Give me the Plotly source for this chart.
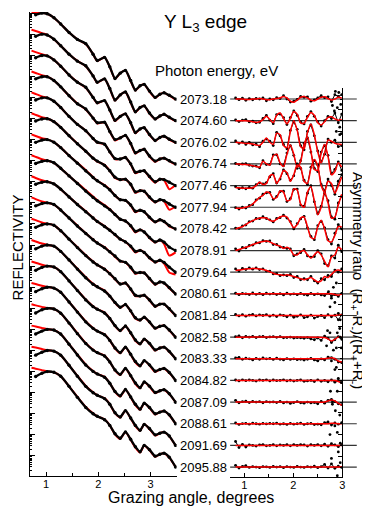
import plotly.graph_objects as go

# ---------------- data ----------------
ENERGIES = ["2073.18", "2074.60", "2076.02", "2076.74", "2077.46", "2077.94", "2078.42",
            "2078.91", "2079.64", "2080.61", "2081.84", "2082.58", "2083.33", "2084.82",
            "2087.09", "2088.61", "2091.69", "2095.88"]

# Left panel: grazing angle (deg) and reflectivity drop below each curve's peak (decades)
LX = [0.80, 0.92, 1.02, 1.15, 1.28, 1.44, 1.60, 1.76, 1.90, 1.98, 2.12, 2.22, 2.32, 2.42,
      2.52, 2.62, 2.71, 2.80, 2.88, 2.98, 3.09, 3.18, 3.26, 3.36, 3.48]
LXF = [0.72] + LX

REFL_DATA = [
    [0.08,0.00,0.03,0.22,0.52,0.92,1.25,1.45,1.95,2.25,2.10,2.55,3.10,2.85,2.72,3.20,3.65,3.45,3.38,3.70,4.00,3.85,3.78,3.90,4.08],
    [0.10,0.00,0.04,0.24,0.55,0.95,1.28,1.50,1.98,2.28,2.12,2.58,3.12,2.88,2.74,3.22,3.68,3.48,3.40,3.74,4.02,3.88,3.80,3.94,4.10],
    [0.12,0.01,0.03,0.22,0.52,0.94,1.28,1.52,2.00,2.25,2.15,2.60,3.08,2.90,2.78,3.20,3.66,3.50,3.44,3.76,4.04,3.90,3.84,3.98,4.13],
    [0.12,0.02,0.02,0.20,0.50,0.92,1.30,1.55,1.98,2.20,2.18,2.62,3.00,2.92,2.80,3.18,3.62,3.52,3.46,3.78,4.02,3.92,3.88,4.00,4.16],
    [0.12,0.02,0.02,0.18,0.48,0.90,1.28,1.58,1.95,2.12,2.22,2.58,2.90,2.92,2.85,3.15,3.55,3.50,3.48,3.75,4.00,3.88,3.90,4.02,4.18],
    [0.12,0.02,0.01,0.15,0.42,0.82,1.20,1.55,1.88,2.02,2.22,2.48,2.78,2.90,2.88,3.12,3.48,3.42,3.45,3.72,3.95,3.85,3.90,4.05,4.21],
    [0.13,0.02,0.00,0.12,0.38,0.76,1.12,1.48,1.80,1.95,2.18,2.38,2.65,2.85,2.88,3.10,3.40,3.35,3.42,3.68,3.90,3.80,3.88,4.08,4.24],
    [0.13,0.03,0.00,0.10,0.36,0.72,1.08,1.44,1.74,1.90,2.14,2.32,2.55,2.78,2.86,3.08,3.35,3.28,3.38,3.64,3.85,3.76,3.86,4.10,4.26],
    [0.12,0.02,0.00,0.10,0.35,0.72,1.08,1.42,1.72,1.88,2.12,2.30,2.50,2.72,2.85,3.05,3.30,3.25,3.35,3.60,3.80,3.72,3.82,4.05,4.29],
    [0.14,0.03,0.00,0.08,0.34,0.72,1.10,1.45,1.75,1.90,2.12,2.32,2.52,2.76,2.82,3.05,3.32,3.30,3.32,3.58,3.85,3.75,3.80,4.02,4.32],
    [0.16,0.04,0.00,0.06,0.32,0.72,1.12,1.50,1.80,1.94,2.15,2.36,2.60,2.85,2.80,3.08,3.38,3.42,3.38,3.60,3.90,3.80,3.80,4.02,4.34],
    [0.18,0.05,0.00,0.05,0.30,0.71,1.14,1.55,1.86,1.98,2.18,2.42,2.72,2.95,2.82,3.12,3.45,3.55,3.42,3.64,3.94,3.85,3.82,4.03,4.37],
    [0.20,0.06,0.00,0.04,0.26,0.70,1.16,1.60,1.92,2.04,2.22,2.48,2.82,3.05,2.84,3.16,3.50,3.68,3.46,3.66,3.97,3.88,3.84,4.04,4.39],
    [0.21,0.07,0.00,0.04,0.24,0.70,1.18,1.64,1.95,2.08,2.25,2.52,2.88,3.10,2.84,3.18,3.52,3.72,3.48,3.68,3.98,3.90,3.85,4.04,4.42],
    [0.22,0.07,0.00,0.03,0.23,0.70,1.20,1.67,1.98,2.10,2.26,2.54,2.92,3.13,2.85,3.19,3.54,3.76,3.49,3.69,3.99,3.91,3.86,4.05,4.45],
    [0.22,0.08,0.00,0.03,0.22,0.70,1.21,1.69,1.99,2.11,2.27,2.55,2.94,3.15,2.85,3.20,3.55,3.78,3.50,3.70,4.00,3.92,3.87,4.05,4.47],
    [0.22,0.08,0.00,0.03,0.22,0.70,1.22,1.70,2.00,2.12,2.28,2.55,2.95,3.15,2.85,3.20,3.55,3.78,3.50,3.70,4.00,3.92,3.87,4.05,4.50],
    [0.23,0.08,0.00,0.03,0.22,0.70,1.22,1.70,2.00,2.12,2.28,2.55,2.95,3.16,2.86,3.21,3.56,3.80,3.50,3.70,4.01,3.92,3.87,4.06,4.52],
]

REFL_FIT = [
    [-0.03,-0.02,0.00,0.03,0.22,0.52,0.92,1.24,1.47,1.95,2.27,2.10,2.55,3.12,2.85,2.72,3.22,3.67,3.45,3.38,3.72,4.02,3.85,3.78,3.92,4.10],
    [-0.21,-0.15,-0.05,0.03,0.24,0.55,0.95,1.27,1.52,1.98,2.30,2.12,2.58,3.15,2.88,2.74,3.24,3.70,3.48,3.40,3.76,4.04,3.88,3.80,3.96,4.12],
    [-0.22,-0.15,-0.05,0.02,0.22,0.52,0.94,1.27,1.54,2.00,2.28,2.15,2.60,3.12,2.90,2.78,3.22,3.70,3.50,3.44,3.78,4.06,3.90,3.84,4.00,4.15],
    [-0.23,-0.16,-0.05,0.01,0.20,0.50,0.92,1.29,1.57,1.98,2.23,2.18,2.62,3.04,2.92,2.80,3.20,3.66,3.52,3.46,3.80,4.05,3.92,3.88,4.02,4.18],
    [-0.24,-0.16,-0.05,0.01,0.18,0.48,0.90,1.27,1.58,1.95,2.14,2.22,2.58,2.93,2.92,2.85,3.17,3.60,3.50,3.48,3.78,4.04,3.88,3.92,4.35,4.15],
    [-0.25,-0.17,-0.06,0.00,0.15,0.42,0.82,1.19,1.55,1.88,2.04,2.20,2.48,2.82,2.90,2.88,3.14,3.52,3.42,3.45,3.75,3.98,3.85,3.92,4.32,4.18],
    [-0.25,-0.17,-0.06,-0.01,0.12,0.38,0.76,1.10,1.45,1.78,1.95,2.15,2.36,2.65,2.85,2.88,3.12,3.45,3.35,3.42,3.70,3.92,3.80,3.88,4.12,4.24],
    [-0.26,-0.18,-0.07,-0.01,0.10,0.36,0.72,1.06,1.40,1.70,1.88,2.10,2.30,2.55,2.78,2.86,3.10,3.40,3.28,3.38,3.66,3.88,3.76,3.95,4.50,4.35],
    [-0.26,-0.18,-0.07,-0.01,0.10,0.35,0.72,1.06,1.40,1.70,1.88,2.10,2.30,2.52,2.72,2.85,3.08,3.35,3.25,3.35,3.62,3.82,3.72,3.88,4.30,4.40],
    [-0.26,-0.18,-0.07,-0.01,0.08,0.34,0.72,1.08,1.44,1.74,1.90,2.10,2.32,2.55,2.76,2.82,3.08,3.36,3.30,3.32,3.60,3.88,3.75,3.80,4.05,4.32],
    [-0.25,-0.18,-0.07,-0.01,0.06,0.32,0.72,1.10,1.48,1.78,1.94,2.13,2.36,2.62,2.85,2.80,3.10,3.42,3.42,3.38,3.62,3.92,3.80,3.80,4.04,4.34],
    [-0.24,-0.17,-0.07,-0.01,0.05,0.30,0.71,1.12,1.53,1.84,1.98,2.16,2.42,2.74,2.97,2.82,3.14,3.48,3.57,3.42,3.66,3.96,3.85,3.82,4.05,4.37],
    [-0.22,-0.16,-0.07,-0.01,0.04,0.26,0.70,1.14,1.58,1.90,2.04,2.20,2.48,2.84,3.08,2.84,3.18,3.54,3.70,3.46,3.68,4.00,3.88,3.84,4.06,4.39],
    [-0.20,-0.15,-0.07,-0.01,0.04,0.24,0.70,1.16,1.62,1.93,2.08,2.23,2.52,2.90,3.13,2.84,3.20,3.56,3.75,3.48,3.70,4.01,3.90,3.85,4.06,4.42],
    [-0.19,-0.14,-0.07,-0.01,0.03,0.23,0.70,1.18,1.65,1.96,2.10,2.24,2.54,2.94,3.16,2.85,3.21,3.58,3.79,3.49,3.71,4.02,3.91,3.86,4.07,4.45],
    [-0.18,-0.14,-0.07,-0.01,0.03,0.22,0.70,1.19,1.67,1.97,2.11,2.25,2.55,2.96,3.18,2.85,3.22,3.59,3.81,3.50,3.72,4.03,3.92,3.87,4.07,4.47],
    [-0.18,-0.14,-0.07,-0.01,0.03,0.22,0.70,1.20,1.68,1.98,2.12,2.26,2.55,2.97,3.18,2.85,3.22,3.59,3.81,3.50,3.72,4.03,3.92,3.87,4.07,4.50],
    [-0.18,-0.14,-0.07,-0.01,0.03,0.22,0.70,1.20,1.68,1.98,2.12,2.26,2.55,2.97,3.19,2.86,3.23,3.60,3.83,3.50,3.72,4.04,3.92,3.87,4.08,4.52],
]

# Right panel: asymmetry ratio (in units of curve spacing)
RX = [0.82, 0.89, 0.96, 1.03, 1.10, 1.17, 1.24, 1.31, 1.38, 1.45, 1.52, 1.59, 1.66, 1.73, 1.80, 1.87,
      1.94, 2.01, 2.08, 2.15, 2.22, 2.29, 2.36, 2.43, 2.50, 2.57, 2.64, 2.71, 2.78, 2.85, 2.92, 2.99]
RXT = [0.82, 2.50, 2.64, 2.71, 2.78, 2.85, 2.92, 2.99]

ASYM_DATA = [
    [0.05,-0.03,0.04,-0.06,0.02,-0.04,0.03,0.0,0.05,-0.08,0.0,-0.04,0.06,0.02,0.15,0.0,-0.14,-0.1,-0.02,0.12,0.08,0.1,-0.1,-0.04,0.05,0.15,0.06,0.1,-0.12,0.2,0.12,0.2],
    [0.03,-0.04,0.02,0.05,-0.06,-0.02,-0.1,-0.08,0.1,0.24,0.02,-0.14,0.28,0.3,0.14,-0.18,0.14,0.45,0.24,-0.06,-0.15,0.2,0.42,0.2,-0.05,-0.25,0.0,0.2,0.1,0.35,-0.1,0.3],
    [0.06,-0.05,0.02,-0.1,0.0,-0.12,-0.08,-0.2,0.05,0.15,0.05,-0.15,0.46,0.3,-0.1,-0.3,0.55,0.95,0.6,-0.15,-0.35,0.5,0.8,0.3,-0.4,-0.9,-0.55,0.15,0.0,0.1,-0.2,-0.15],
    [0.02,-0.03,0.0,0.01,-0.06,-0.1,-0.1,-0.18,0.15,-0.03,-0.02,0.42,0.42,0.0,-0.08,0.5,0.85,0.4,-0.2,0.15,0.95,1.2,0.55,-0.2,-0.35,0.55,0.85,0.4,-0.45,-0.25,0.1,-0.3],
    [-0.05,-0.14,-0.1,-0.15,-0.08,-0.12,0.04,0.12,0.08,0.14,0.4,0.55,0.12,0.3,0.72,0.55,0.25,0.45,1.0,0.8,0.25,0.05,0.85,1.15,0.95,0.05,-0.25,0.3,0.0,-0.4,0.2,0.5],
    [-0.02,-0.08,0.0,-0.04,0.08,0.12,0.34,0.42,0.6,0.66,0.68,0.36,0.5,0.72,0.74,0.26,0.4,0.82,0.84,0.1,0.05,0.65,1.0,0.25,-0.3,0.05,0.65,0.3,-0.45,-0.55,0.2,0.5],
    [0.04,0.02,0.14,0.18,0.34,0.36,0.48,0.47,0.56,0.48,0.42,0.32,0.48,0.52,0.64,0.5,0.34,0.0,0.24,0.46,0.58,0.05,-0.35,-0.5,0.15,0.35,0.05,-0.5,-0.7,-0.2,0.2,0.0],
    [0.08,-0.02,0.14,0.12,0.24,0.25,0.36,0.35,0.46,0.42,0.44,0.28,0.28,0.16,0.14,0.1,0.08,-0.24,-0.15,-0.1,0.05,-0.25,-0.3,-0.28,0.0,-0.15,-0.6,-0.7,-0.25,-0.35,0.25,-0.05],
    [0.15,0.05,0.18,0.12,0.2,0.14,0.2,0.12,0.15,0.05,0.05,-0.08,-0.06,-0.16,-0.12,-0.16,-0.1,-0.25,-0.2,-0.35,-0.3,-0.35,-0.2,-0.4,-0.5,-0.3,-0.35,-0.15,-0.2,0.1,0.0,0.15],
    [0.03,-0.04,0.02,0.0,-0.03,0.04,-0.02,0.02,-0.04,0.03,-0.01,0.02,-0.03,0.01,-0.05,0.03,-0.02,0.0,-0.04,0.02,-0.03,-0.06,0.02,-0.04,0.0,-0.05,-0.08,0.03,-0.1,-0.04,-0.12,0.02],
    [0.05,-0.02,0.04,-0.03,0.02,0.05,-0.02,0.03,0.0,0.04,-0.03,0.02,-0.05,0.03,0.0,-0.06,0.02,-0.08,-0.04,0.03,-0.1,-0.06,0.02,-0.12,-0.05,0.0,-0.1,0.04,-0.06,0.02,-0.2,0.03],
    [0.02,0.06,-0.03,0.03,0.0,0.04,-0.02,0.02,0.03,-0.02,0.01,0.02,-0.01,0.02,-0.03,-0.02,0.0,-0.04,-0.02,-0.03,-0.05,-0.02,-0.08,-0.12,-0.04,-0.15,0.05,-0.05,-0.25,-0.12,0.02,-0.1],
    [0.04,0.06,-0.02,0.03,0.0,-0.05,0.02,-0.02,0.04,0.0,0.02,-0.03,0.03,-0.02,-0.05,0.01,-0.03,0.0,-0.04,-0.02,-0.06,-0.02,0.02,-0.05,-0.1,0.0,-0.05,0.08,0.05,-0.02,-0.15,-0.18],
    [0.02,-0.02,0.03,-0.01,0.02,0.0,-0.03,0.02,0.0,0.03,-0.02,0.02,-0.01,0.0,0.03,-0.02,0.01,-0.03,0.0,0.02,-0.04,-0.02,0.0,-0.05,0.03,-0.04,0.0,-0.06,0.02,-0.08,0.0,-0.1],
    [0.08,-0.03,0.02,0.04,-0.02,0.03,0.0,0.02,-0.03,0.02,0.0,0.01,-0.02,0.03,-0.04,0.0,-0.06,-0.02,0.02,-0.03,-0.05,0.0,-0.04,-0.02,-0.08,0.03,-0.05,0.08,0.12,0.02,-0.08,-0.12],
    [0.04,-0.03,0.01,0.02,-0.02,0.03,0.0,-0.02,0.02,-0.01,0.02,0.0,0.03,-0.02,0.0,-0.03,0.02,-0.02,0.0,0.03,-0.03,0.0,0.02,-0.04,-0.02,-0.05,0.05,0.08,-0.06,0.04,-0.02,0.05],
    [0.18,-0.1,0.05,-0.08,0.02,0.0,-0.03,0.02,0.04,-0.02,0.0,0.03,-0.02,0.02,0.0,0.03,-0.02,0.04,0.0,0.03,0.02,-0.03,0.03,0.0,0.04,-0.02,0.06,-0.04,0.08,0.02,-0.06,0.03],
    [0.08,-0.05,0.03,0.06,-0.02,0.02,0.0,-0.03,0.02,0.01,-0.02,0.03,0.0,0.02,-0.03,0.02,0.0,-0.02,0.03,0.0,-0.02,0.02,0.0,0.04,-0.03,0.02,0.12,-0.05,0.15,-0.06,0.04,-0.02],
]

ASYM_FIT_OSC = [
    [0,0,0,-0.02,-0.02,0,0,0.02,0,-0.03,-0.03,0,0.02,0.05,0.12,0.05,-0.1,-0.15,-0.05,0.08,0.12,0.05,-0.05,-0.08,0.0,0.08,0.1,0.02,-0.05,0.0,0.08,0.05],
    [0,0,0,0,-0.02,-0.05,-0.08,-0.05,0.05,0.2,0.05,-0.1,0.25,0.35,0.1,-0.15,0.1,0.42,0.3,-0.1,-0.12,0.15,0.38,0.25,-0.1,-0.2,-0.05,0.15,0.18,0.08,0.02,0.05],
    [0,-0.02,-0.03,-0.05,-0.05,-0.08,-0.12,-0.15,0.0,0.2,0.0,-0.1,0.42,0.35,-0.15,-0.25,0.5,1.0,0.55,-0.2,-0.3,0.45,0.85,0.35,-0.45,-0.95,-0.5,0.1,0.05,-0.05,-0.08,-0.1],
    [0,0,-0.02,-0.02,-0.05,-0.08,-0.12,-0.15,0.12,0.0,-0.05,0.38,0.45,0.05,-0.12,0.45,0.88,0.45,-0.15,0.1,0.9,1.25,0.6,-0.25,-0.3,0.5,0.9,0.35,-0.5,-0.35,0.05,-0.15],
    [-0.1,-0.1,-0.12,-0.12,-0.12,-0.1,0.0,0.15,0.05,0.1,0.45,0.5,0.1,0.35,0.7,0.6,0.2,0.5,0.95,0.85,0.2,0.1,0.8,1.2,0.9,0.0,-0.3,0.2,0.1,-0.35,0.0,0.4],
    [-0.05,-0.05,-0.03,0.0,0.05,0.15,0.3,0.45,0.55,0.7,0.65,0.4,0.45,0.75,0.7,0.3,0.35,0.85,0.8,0.15,0.0,0.7,0.95,0.3,-0.35,0.0,0.7,0.2,-0.5,-0.45,0.1,0.6],
    [0.0,0.05,0.1,0.2,0.3,0.38,0.45,0.5,0.52,0.5,0.4,0.35,0.45,0.55,0.6,0.55,0.3,0.05,0.2,0.5,0.55,0.1,-0.4,-0.45,0.1,0.4,0.0,-0.55,-0.6,-0.3,0.1,0.1],
    [0.0,0.05,0.1,0.15,0.2,0.28,0.33,0.38,0.42,0.44,0.4,0.32,0.25,0.2,0.1,0.15,0.05,-0.2,-0.2,-0.05,0.0,-0.2,-0.35,-0.2,-0.05,-0.2,-0.5,-0.75,-0.3,-0.2,0.15,0.05],
    [0.08,0.1,0.12,0.15,0.16,0.17,0.17,0.15,0.12,0.08,0.02,-0.05,-0.1,-0.12,-0.15,-0.12,-0.15,-0.2,-0.25,-0.3,-0.35,-0.3,-0.25,-0.35,-0.45,-0.4,-0.2,-0.25,-0.1,0.05,0.1,0.05],
]
ASYM_FIT_FLAT = [
    [0.0,0.0,0.0,0.0,0.0,-0.03,-0.06,0.0],
    [0.0,0.0,0.0,0.0,0.0,0.0,0.03,0.02],
    [0.0,0.0,-0.02,-0.08,-0.18,-0.1,0.0,0.0],
    [0.0,0.0,0.0,0.02,0.05,0.0,-0.1,-0.15],
    [0.0,0.0,0.0,0.0,0.0,0.0,-0.05,-0.12],
    [0.0,0.0,0.0,0.05,0.1,0.05,-0.05,-0.15],
    [0.0,0.0,0.0,0.0,0.02,0.02,0.0,0.0],
    [0.0,0.0,0.0,0.0,0.0,0.0,0.0,0.0],
    [0.0,0.0,0.0,0.0,0.0,0.0,0.0,0.0],
]

# scattered outlier points: curve index, angle, asymmetry
OUT_CURVE = [0,0,0,0,1,1,1,1,2,2,8,8,8,8,9,9,9,9,10,10,11,11,11,11,12,12,12,12,13,13,13,13,13,14,14,14,15,15,15,15,16,16,16,16,17,17,17]
OUT_X = [2.86,2.93,2.97,2.80,2.90,2.95,2.98,2.84,2.88,2.95,2.72,2.78,2.82,2.88,2.75,2.85,2.92,2.96,2.90,2.96,2.70,2.75,2.88,2.95,2.68,2.85,2.92,2.98,2.78,2.82,2.88,2.76,2.80,2.90,2.95,2.98,2.80,2.86,2.90,2.96,2.75,2.85,2.92,2.96,2.78,2.90,2.95]
OUT_Y = [0.35,0.3,-0.25,-0.3,0.6,-0.3,-0.6,0.45,0.5,0.35,-0.9,-1.2,-0.7,-0.5,-0.6,-0.4,-0.9,-1.2,-0.8,-1.0,0.3,0.2,-0.5,0.4,0.6,-0.5,-0.9,0.5,0.9,1.4,0.6,-0.5,-1.0,0.5,-0.6,0.9,0.9,0.6,-0.4,-0.9,0.5,0.9,-0.3,-0.8,0.4,-0.4,-0.8]

# ---------------- figure ----------------
# page body adds an 8 px margin, so the figure is 8 px smaller than the window
OFF = 8
W, H = 370 - OFF, 506 - OFF
FONT = "Arial, Liberation Sans, sans-serif"


def xp(px):
    return (px - OFF) / W


def yp(px):
    return 1 - (px - OFF) / H


fig = go.Figure()

# left panel
for k in range(len(ENERGIES)):
    fig.add_trace(go.Scatter(x=LXF, y=[10 ** (-(k + d)) for d in REFL_FIT[k]],
                             mode="lines", line=dict(color="#ff0000", width=2, shape="spline", smoothing=0.6),
                             xaxis="x", yaxis="y", showlegend=False, hoverinfo="skip"))
    fig.add_trace(go.Scatter(x=LX, y=[10 ** (-(k + d)) for d in REFL_DATA[k]],
                             mode="lines+markers", line=dict(color="black", width=2.3, shape="spline", smoothing=0.6),
                             marker=dict(color="black", size=3.4),
                             xaxis="x", yaxis="y", showlegend=False, hoverinfo="skip"))

# right panel
for k in range(len(ENERGIES)):
    fig.add_shape(type="line", xref="x2 domain", x0=0, x1=1.13, yref="y2", y0=-k, y1=-k,
                  line=dict(color="#333333", width=1.2), layer="below")
    fig.add_trace(go.Scatter(x=RX, y=[-k + v for v in ASYM_DATA[k]],
                             mode="lines+markers", line=dict(color="black", width=1),
                             marker=dict(color="black", size=2.8),
                             xaxis="x2", yaxis="y2", showlegend=False, hoverinfo="skip"))
    if k < len(ASYM_FIT_OSC):
        fx, fy = RX, ASYM_FIT_OSC[k]
    else:
        fx, fy = RXT, ASYM_FIT_FLAT[k - len(ASYM_FIT_OSC)]
    fig.add_trace(go.Scatter(x=fx, y=[-k + v for v in fy],
                             mode="lines", line=dict(color="#ff0000", width=1.5, shape="spline", smoothing=0.7),
                             xaxis="x2", yaxis="y2", showlegend=False, hoverinfo="skip"))
    fig.add_annotation(text=ENERGIES[k], xref="x2 domain", x=0, xanchor="right", xshift=-1,
                       yref="y2", y=-k, yanchor="middle", showarrow=False,
                       font=dict(family=FONT, size=13, color="black"))

fig.add_trace(go.Scatter(x=OUT_X, y=[-c + v for c, v in zip(OUT_CURVE, OUT_Y)],
                         mode="markers", marker=dict(color="black", size=2.8),
                         xaxis="x2", yaxis="y2", showlegend=False, hoverinfo="skip"))

axis_line = dict(showgrid=False, zeroline=False, showline=True, linecolor="black", linewidth=1,
                 ticks="inside", tickcolor="black")
tickfont = dict(family=FONT, size=11, color="black")

fig.update_layout(
    width=W, height=H, autosize=False,
    margin=dict(l=0, r=0, t=0, b=0),
    paper_bgcolor="white", plot_bgcolor="rgba(0,0,0,0)",
    xaxis=dict(domain=[xp(30), xp(178)], range=[0.688, 3.5], anchor="y", dtick=1, tick0=0,
               ticklen=4, tickfont=tickfont, ticklabelstandoff=-2,
               minor=dict(ticks="inside", dtick=0.5, ticklen=3, tickcolor="black"), **axis_line),
    yaxis=dict(domain=[yp(476), yp(12)], type="log", range=[-21.95, 0.05], anchor="x",
               dtick=1, ticklen=5, showticklabels=False,
               minor=dict(ticks="inside", ticklen=2, tickcolor="black", dtick="D1"), **axis_line),
    xaxis2=dict(domain=[xp(232), xp(345)], range=[0.709, 3.0], anchor="y2", dtick=1, tick0=0,
                ticklen=4, tickfont=tickfont, ticklabelstandoff=-2,
                minor=dict(ticks="inside", dtick=0.5, ticklen=3, tickcolor="black"), **axis_line),
    yaxis2=dict(domain=[yp(477), yp(88)], range=[-17.46, 0.508], anchor="x2", side="right",
                dtick=1, tick0=0.5, ticklen=4, showticklabels=False,
                minor=dict(ticks="inside", dtick=0.5, ticklen=2, tickcolor="black"), **axis_line),
)

fig.add_annotation(text="Y L<sub>3</sub> edge", xref="paper", yref="paper", x=xp(207), y=yp(23),
                   xanchor="center", yanchor="middle", showarrow=False,
                   font=dict(family=FONT, size=19, color="black"))
fig.add_annotation(text="Photon energy, eV", xref="paper", yref="paper", x=xp(218), y=yp(70),
                   xanchor="center", yanchor="middle", showarrow=False,
                   font=dict(family=FONT, size=15, color="black"))
fig.add_annotation(text="Grazing angle, degrees", xref="paper", yref="paper", x=xp(193), y=yp(497),
                   xanchor="center", yanchor="middle", showarrow=False,
                   font=dict(family=FONT, size=16, color="black"))
fig.add_annotation(text="REFLECTIVITY", xref="paper", yref="paper", x=xp(17.5), y=yp(247),
                   xanchor="center", yanchor="middle", showarrow=False, textangle=-90,
                   font=dict(family=FONT, size=15, color="black"))
fig.add_annotation(text="Asymmetry ratio  (R<sub>+</sub>-R<sub>-</sub>)/(R<sub>+</sub>+R<sub>-</sub>)",
                   xref="paper", yref="paper", x=xp(361), y=yp(280),
                   xanchor="center", yanchor="middle", showarrow=False, textangle=90,
                   font=dict(family=FONT, size=15, color="black"))

fig.write_html("out.html")
